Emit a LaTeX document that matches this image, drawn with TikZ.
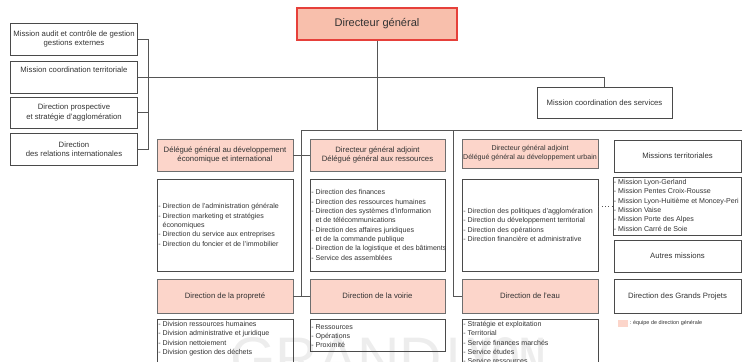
\documentclass[tikz,border=0pt]{standalone}
\usepackage{fontspec}
\setmainfont{Liberation Sans}
\definecolor{linec}{HTML}{555555}
\definecolor{boxc}{HTML}{4A4A4A}
\definecolor{txt}{HTML}{333333}
\definecolor{dgfill}{HTML}{F8BFAC}
\definecolor{dgline}{HTML}{E6403A}
\definecolor{headfill}{HTML}{FCD5CA}
\definecolor{wmark}{HTML}{EDEDED}
\tikzset{
  sz/.style 2 args={minimum width=#1*0.75pt, minimum height=#2*0.75pt},
  box/.style={draw=boxc, line width=0.7pt, inner sep=0pt, align=center,
    text=txt, font=\fontsize{5.8}{7}\selectfont},
  headbox/.style={box, fill=headfill, draw=boxc!80},
  listbox/.style={draw=boxc, line width=0.7pt, inner sep=0pt},
  listtxt/.style={inner sep=0pt, align=left, text=txt,
    font=\fontsize{5.3}{7}\selectfont},
  wire/.style={draw=linec, line width=0.75pt},
}
\newcommand{\cont}{\hphantom{- }}
\begin{document}
\begin{tikzpicture}[x=0.75pt, y=-0.75pt]
\useasboundingbox (0,0) rectangle (742,361);
\clip (0,0) rectangle (742,361);

% faint logo lettering along the bottom edge
\node[anchor=base west, inner sep=0pt, text=wmark, font=\fontsize{44}{44}\selectfont]
  (wmA) at (230,378) {GRAND};
\node[anchor=base west, inner sep=0pt, text=wmark, font=\fontsize{44}{44}\selectfont\bfseries]
  (wmB) at (448,378) {\scalebox{0.62}[1]{LYON}};

% general management
\node[box, sz={160}{32}, fill=dgfill, draw=dgline, line width=0.9pt,
      font=\fontsize{8.3}{10}\selectfont] (dg) at (377,24) {Directeur général};

% missions attached on the left
\node[box, sz={127}{32}] (l1) at (74,39)
  {Mission audit et contrôle de gestion\\gestions externes};
\node[box, sz={127}{32}] (l2) at (74,77) {};
\node[listtxt, anchor=north, font=\fontsize{5.8}{7}\selectfont] (l2t)
  at ([yshift=-6*0.75pt]l2.north) {Mission coordination territoriale};
\node[box, sz={127}{31}] (l3) at (74,112.5)
  {Direction prospective\\et stratégie d'agglomération};
\node[box, sz={127}{32}] (l4) at (74,149)
  {Direction\\des relations internationales};

\node[box, sz={135}{31}] (mcs) at (604.5,102.5) {Mission coordination des services};

% first row of deputies
\node[headbox, sz={136}{32}] (d1) at (225,155)
  {Délégué général au développement\\économique et international};
\node[headbox, sz={135}{32}] (d2) at (377.5,155)
  {Directeur général adjoint\\Délégué général aux ressources};
\node[headbox, sz={136}{29}, font=\fontsize{5.3}{6.8}\selectfont] (d3) at (530,153.5)
  {Directeur général adjoint\\Délégué général au développement urbain};
\node[box, sz={127}{32}] (mt) at (677.5,156) {Missions territoriales};

% lists of directions
\node[listbox, sz={136}{92}] (b1) at (225,225) {};
\node[listtxt, anchor=west] (b1t) at ([xshift=1.5*0.75pt]b1.west)
  {- Direction de l'administration générale\\
   - Direction marketing et stratégies\\
   \cont économiques\\
   - Direction du service aux entreprises\\
   - Direction du foncier et de l'immobilier};
\node[listbox, sz={135}{92}] (b2) at (377.5,225) {};
\node[listtxt, anchor=west] (b2t) at ([xshift=1.5*0.75pt]b2.west)
  {- Direction des finances\\
   - Direction des ressources humaines\\
   - Direction des systèmes d'information\\
   \cont et de télécommunications\\
   - Direction des affaires juridiques\\
   \cont et de la commande publique\\
   - Direction de la logistique et des bâtiments\\
   - Service des assemblées};
\node[listbox, sz={136}{92}] (b3) at (530,225) {};
\node[listtxt, anchor=west] (b3t) at ([xshift=1.5*0.75pt]b3.west)
  {- Direction des politiques d'agglomération\\
   - Direction du développement territorial\\
   - Direction des opérations\\
   - Direction financière et administrative};
\node[listbox, sz={128}{58}] (b4) at (677,206) {};
\node[listtxt, anchor=north west] (b4t) at ([xshift=1*0.75pt, yshift=-2.5*0.75pt]b4.north west)
  {- Mission Lyon-Gerland\\
   - Mission Pentes Croix-Rousse\\
   - Mission Lyon-Huitième et Moncey-Peri\\
   - Mission Vaise\\
   - Mission Porte des Alpes\\
   - Mission Carré de Soie};
\node[box, sz={127}{32}] (am) at (677.5,256) {Autres missions};

% second row of directions
\node[headbox, sz={136}{34}] (p1) at (225,296) {Direction de la propreté};
\node[headbox, sz={135}{34}] (p2) at (377.5,296) {Direction de la voirie};
\node[headbox, sz={136}{34}] (p3) at (530,296) {Direction de l'eau};
\node[box, sz={127}{34}] (gp) at (677.5,296) {Direction des Grands Projets};

\node[listbox, sz={136}{50}] (c1) at (225,344) {};
\node[listtxt, anchor=north west] (c1t) at ([xshift=1.5*0.75pt, yshift=-2.5*0.75pt]c1.north west)
  {- Division ressources humaines\\
   - Division administrative et juridique\\
   - Division nettoiement\\
   - Division gestion des déchets};
\node[listbox, sz={135}{32}] (c2) at (377.5,335) {};
\node[listtxt, anchor=west] (c2t) at ([xshift=1.5*0.75pt, yshift=-1*0.75pt]c2.west)
  {- Ressources\\
   - Opérations\\
   - Proximité};
\node[listbox, sz={136}{50}] (c3) at (530,344) {};
\node[listtxt, anchor=north west] (c3t) at ([xshift=1.5*0.75pt, yshift=-2.5*0.75pt]c3.north west)
  {- Stratégie et exploitation\\
   - Territorial\\
   - Service finances marchés\\
   - Service études\\
   - Service ressources};

% key
\node[fill=headfill, inner sep=0pt, sz={10}{7}] (key) at (623,323.5) {};
\node[anchor=west, inner sep=0pt, text=txt, font=\fontsize{4.1}{5}\selectfont]
  (keyt) at ([xshift=1*0.75pt]key.east) {: équipe de direction générale};

% connectors
\coordinate (brk) at (148,0);
\coordinate (ta) at (301,130);
\coordinate (tb) at (453,130);
\coordinate (tr) at (742,130);
\draw[wire] (l1.east) -- (l1.east -| brk) -- (l4.east -| brk) -- (l4.east);
\draw[wire] (l3.east) -- (l3.east -| brk);
\draw[wire] (l2.east) -- (l2.east -| mcs.north) -- (mcs.north);
\draw[wire] (dg.south) -- (dg.south |- ta);
\draw[wire] (ta) -- (tr);
\draw[wire] (ta) -- (ta |- p1.east);
\draw[wire] (d1.east) -- (d2.west);
\draw[wire] (p1.east) -- (p2.west);
\draw[wire] (tb) |- (p3.west);
\draw[draw=linec, line width=0.5pt, dotted] (b3.east |- b4.west) -- (b4.west);
\end{tikzpicture}
\end{document}
